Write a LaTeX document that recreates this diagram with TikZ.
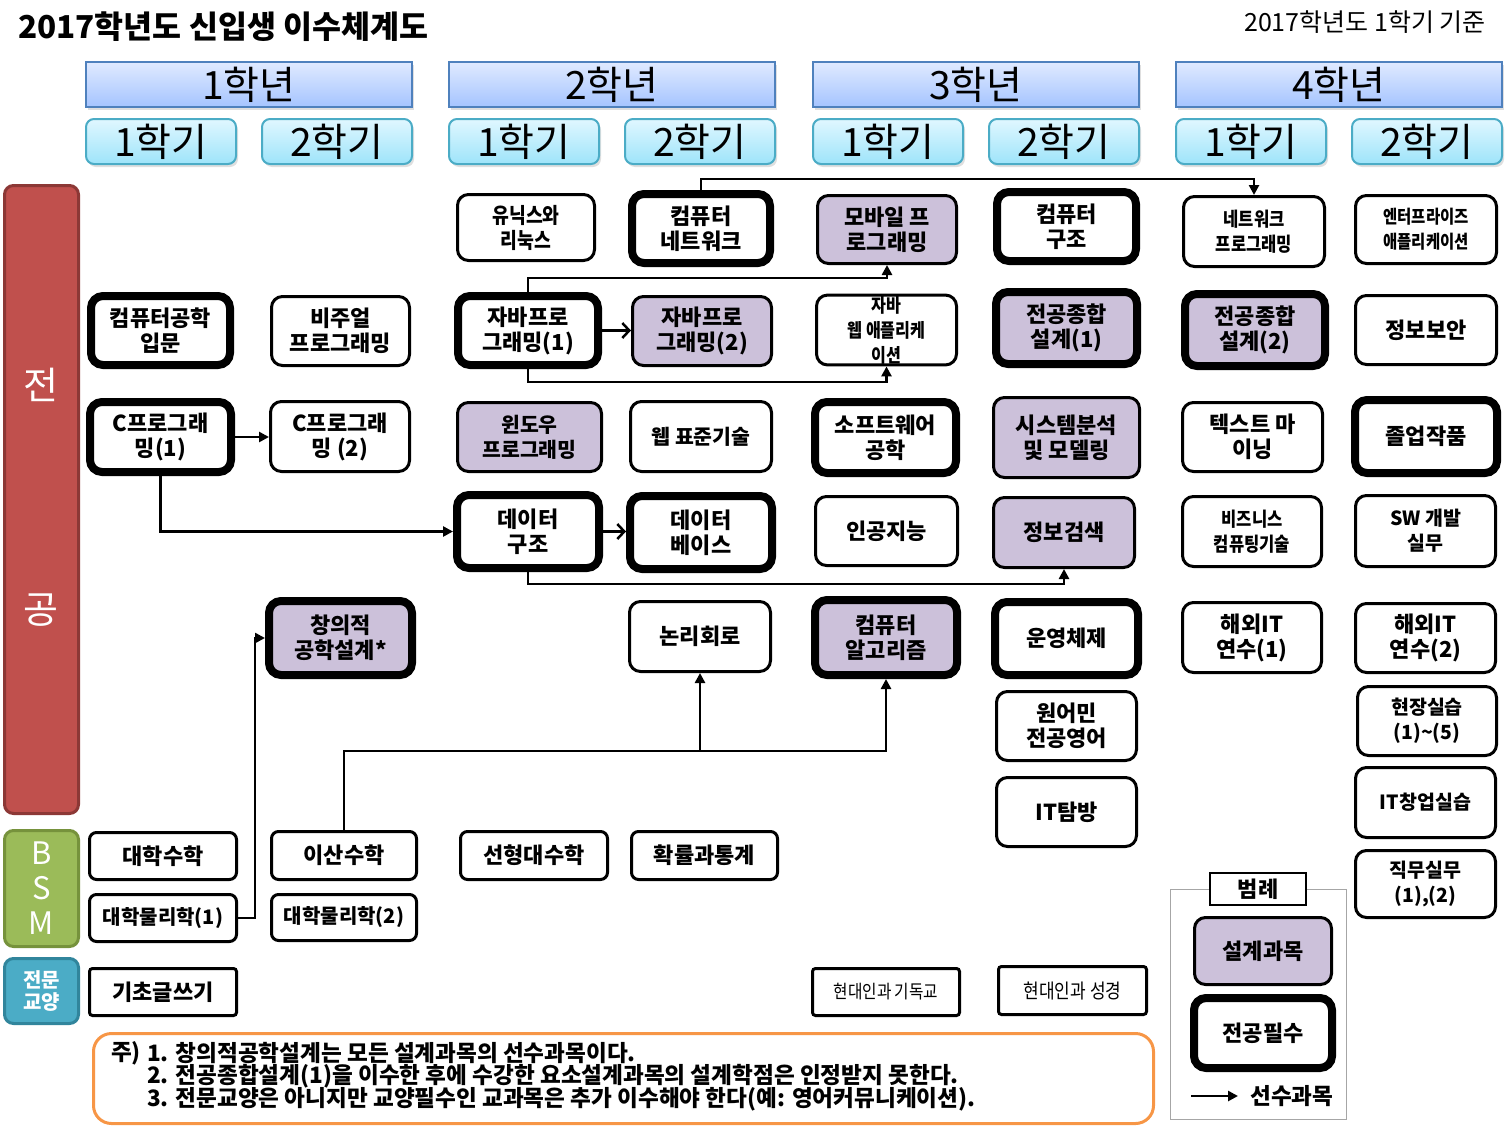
\documentclass[tikz,border=0pt]{standalone}
\usepackage{fontspec}
\setmainfont{Noto Sans CJK KR}
\newfontfamily\krc{Noto Sans CJK KR}[FakeStretch=0.85]
\usetikzlibrary{arrows.meta,shadows}
\definecolor{lav}{RGB}{204,193,218}
\definecolor{redbar}{RGB}{192,80,77}
\definecolor{redbd}{RGB}{140,56,54}
\definecolor{greenbar}{RGB}{155,187,89}
\definecolor{greenbd}{RGB}{118,146,60}
\definecolor{bluebar}{RGB}{75,172,198}
\definecolor{bluebd}{RGB}{49,133,156}
\definecolor{yeartop}{RGB}{224,234,255}
\definecolor{yearbot}{RGB}{165,196,255}
\definecolor{yearbd}{RGB}{79,129,189}
\definecolor{semtop}{RGB}{224,247,255}
\definecolor{sembot}{RGB}{158,228,250}
\definecolor{sembd}{RGB}{75,172,198}
\definecolor{orangeb}{RGB}{247,150,70}
\newcommand\crs[8]{\node[#1, minimum width={(#6-#4-#2)*1pt}, minimum height={(#7-#5-#2)*1pt}] (#3) at ({(#4+#6)/2},{(#5+#7)/2}) {#8};}
\newcommand\cndA{\krc\bfseries\fontsize{19.5}{23}\selectfont}
\newcommand\cndE{\krc\bfseries\fontsize{18.2}{22}\selectfont}
\newcommand\cndW{\krc\bfseries\fontsize{19}{22}\selectfont}
\newcommand\cndU{\krc\bfseries\fontsize{21.5}{25}\selectfont}
\newcommand\cndB{\fontsize{19.5}{24}\selectfont}
\newcommand\cndC{\fontsize{20.5}{24}\selectfont}
\tikzset{
 crsbase/.style={rounded corners=11pt, align=center, inner sep=1pt, font=\fontsize{22}{25}\selectfont\bfseries, text=black, fill=white},
 thinbox/.style={crsbase, draw=black, line width=3pt},
 thinpurple/.style={thinbox, fill=lav},
 smallbox/.style={thinbox, rounded corners=7pt},
 thickbox/.style={crsbase, draw=black, line width=8pt, rounded corners=12pt},
 thickpurple/.style={thickbox, fill=lav},
 yearbox/.style={draw=yearbd, line width=2pt, top color=yeartop, bottom color=yearbot, font=\fontsize{39}{42}\selectfont, drop shadow={opacity=0.25, shadow xshift=2pt, shadow yshift=-3pt}},
 sembox/.style={draw=sembd, line width=2pt, rounded corners=8pt, top color=semtop, bottom color=sembot, font=\fontsize{39}{42}\selectfont, drop shadow={opacity=0.25, shadow xshift=2pt, shadow yshift=-3pt}},
 sidebar/.style={line width=3pt, rounded corners=9pt, text=white},
 arr/.style={line width=2.5pt, -{Triangle[length=10pt,width=10pt]}},
 oarr/.style={line width=2.5pt, -{Straight Barb[length=7pt,width=15pt,line width=2.5pt]}},
 notetext/.style={anchor=west, inner sep=0pt, font=\fontsize{22.6}{23}\selectfont\bfseries},
}
\begin{document}
\begin{tikzpicture}[x=1pt,y=-1pt]
\useasboundingbox (0,0) rectangle (1511,1127);
% titles
\node[anchor=west, inner sep=0pt, font=\fontsize{31.5}{34}\selectfont\bfseries] (title) at (18,27) {2017학년도 신입생 이수체계도};
\node[anchor=east, inner sep=0pt, font=\fontsize{25}{28}\selectfont] (basis) at (1486,22) {2017학년도 1학기 기준};
% year headers
\crs{yearbox}{2}{y1}{85}{61}{413}{108}{1학년}
\crs{yearbox}{2}{y2}{448}{61}{776}{108}{2학년}
\crs{yearbox}{2}{y3}{812}{61}{1140}{108}{3학년}
\crs{yearbox}{2}{y4}{1175}{61}{1503}{108}{4학년}
\crs{sembox}{2}{s11}{85}{118}{237}{165}{1학기}
\crs{sembox}{2}{s12}{261}{118}{413}{165}{2학기}
\crs{sembox}{2}{s21}{448}{118}{600}{165}{1학기}
\crs{sembox}{2}{s22}{624}{118}{776}{165}{2학기}
\crs{sembox}{2}{s31}{812}{118}{964}{165}{1학기}
\crs{sembox}{2}{s32}{988}{118}{1140}{165}{2학기}
\crs{sembox}{2}{s41}{1175}{118}{1327}{165}{1학기}
\crs{sembox}{2}{s42}{1351}{118}{1503}{165}{2학기}
% sidebars
\crs{sidebar, draw=redbd, fill=redbar}{3}{major}{3}{184}{80}{815}{}
\node[text=white, font=\fontsize{38}{40}\selectfont] (majA) at (41,385) {전};
\node[text=white, font=\fontsize{38}{40}\selectfont] (majB) at (41,610) {공};
\crs{sidebar, draw=greenbd, fill=greenbar, align=center, font=\fontsize{31}{35}\selectfont}{3}{bsm}{3}{829}{80}{948}{B\\S\\M}
\crs{sidebar, draw=bluebd, fill=bluebar, align=center, font=\fontsize{20}{22}\selectfont\bfseries}{3}{liberal}{3}{957}{80}{1025}{전문\\교양}
% row 1
\crs{thinbox}{3}{unix}{456}{193}{596}{262}{\cndU 유닉스와\\\cndU 리눅스}
\crs{thickbox}{8}{cnet}{628}{190}{774}{267}{컴퓨터\\네트워크}
\crs{thinpurple}{3}{mobile}{816}{194}{958}{265}{모바일 프\\로그래밍}
\crs{thickbox}{8}{carch}{993}{188}{1140}{265}{컴퓨터\\구조}
\crs{thinbox}{3}{netprog}{1182}{195}{1326}{268}{\cndA 네트워크\\\cndA 프로그래밍}
\crs{thinbox}{3}{enterprise}{1354}{194}{1498}{265}{\cndE 엔터프라이즈\\\cndE 애플리케이션}
% row 2
\crs{thickbox}{8}{intro}{87}{292}{234}{369}{컴퓨터공학\\입문}
\crs{thinbox}{3}{visual}{270}{295}{411}{367}{비주얼\\프로그래밍}
\crs{thickbox}{8}{java1}{454}{292}{602}{369}{자바프로\\그래밍(1)}
\crs{thinpurple}{3}{java2}{631}{295}{773}{367}{자바프로\\그래밍(2)}
\crs{thinbox}{3}{javaweb}{815}{294}{958}{366}{\cndW 자바\\\cndW 웹 애플리케\\\cndW 이션}
\crs{thickpurple}{8}{cap1}{992}{288}{1141}{368}{전공종합\\설계(1)}
\crs{thickpurple}{8}{cap2}{1181}{290}{1329}{370}{전공종합\\설계(2)}
\crs{thinbox}{3}{security}{1354}{294}{1498}{366}{정보보안}
% row 3
\crs{thickbox}{8}{c1}{86}{398}{235}{476}{C프로그래\\밍(1)}
\crs{thinbox}{3}{c2}{269}{400}{411}{473}{C프로그래\\밍 (2)}
\crs{thinpurple}{3}{win}{456}{401}{603}{473}{\cndC 윈도우\\\cndC 프로그래밍}
\crs{thinbox}{3}{webstd}{629}{400}{773}{473}{\cndC 웹 표준기술}
\crs{thickbox}{8}{swe}{811}{398}{960}{477}{소프트웨어\\공학}
\crs{thinpurple}{3}{sysan}{992}{396}{1141}{479}{시스템분석\\및 모델링}
\crs{thinbox}{3}{textmin}{1181}{401}{1324}{473}{텍스트 마\\이닝}
\crs{thickbox}{8}{grad}{1351}{396}{1501}{477}{졸업작품}
% row 4
\crs{thickbox}{8}{ds}{453}{491}{603}{572}{데이터\\구조}
\crs{thickbox}{8}{db}{626}{492}{776}{573}{데이터\\베이스}
\crs{thinbox}{3}{ai}{814}{495}{959}{567}{인공지능}
\crs{thinpurple}{3}{ir}{992}{496}{1136}{569}{정보검색}
\crs{thinbox}{3}{biz}{1181}{495}{1323}{568}{\cndA 비즈니스\\\cndA 컴퓨팅기술}
\crs{thinbox}{3}{swdev}{1354}{494}{1497}{568}{\cndB SW 개발\\\cndB 실무}
% row 5
\crs{thickpurple}{8}{creative}{265}{597}{416}{679}{창의적\\공학설계*}
\crs{thinbox}{3}{logic}{628}{600}{772}{673}{논리회로}
\crs{thickpurple}{8}{algo}{811}{596}{961}{679}{컴퓨터\\알고리즘}
\crs{thickbox}{8}{os}{991}{598}{1142}{679}{운영체제}
\crs{thinbox}{3}{abroad1}{1181}{601}{1323}{674}{해외IT\\연수(1)}
\crs{thinbox}{3}{abroad2}{1354}{602}{1497}{674}{해외IT\\연수(2)}
% extra
\crs{thinbox}{3}{native}{995}{690}{1138}{762}{원어민\\전공영어}
\crs{thinbox}{3}{ittour}{995}{776}{1138}{848}{IT탐방}
\crs{thinbox}{3}{intern}{1356}{685}{1498}{757}{\cndB 현장실습\\\cndB (1)\textasciitilde(5)}
\crs{thinbox}{3}{startup}{1354}{766}{1497}{839}{\cndB IT창업실습}
\crs{thinbox}{3}{job}{1354}{849}{1497}{919}{\cndB 직무실무\\\cndB (1),(2)}
% BSM
\crs{smallbox}{3}{calc}{88}{831}{238}{881}{대학수학}
\crs{smallbox}{3}{discrete}{270}{830}{418}{881}{이산수학}
\crs{smallbox}{3}{linalg}{459}{830}{609}{881}{선형대수학}
\crs{smallbox}{3}{prob}{630}{830}{779}{881}{확률과통계}
\crs{smallbox}{3}{phys1}{88}{893}{238}{943}{\fontsize{20}{24}\selectfont 대학물리학(1)}
\crs{smallbox}{3}{phys2}{270}{893}{418}{942}{\fontsize{20}{24}\selectfont 대학물리학(2)}
% liberal arts
\crs{smallbox, rounded corners=3pt}{3}{writing}{88}{967}{238}{1017}{기초글쓰기}
\crs{smallbox, rounded corners=3pt}{3}{modchr}{811}{967}{961}{1017}{\krc\mdseries\fontsize{18.5}{20}\selectfont 현대인과 기독교}
\crs{smallbox, rounded corners=3pt}{3}{modbib}{997}{965}{1148}{1016}{\krc\mdseries\fontsize{20}{22}\selectfont 현대인과 성경}
% note
\crs{thinbox, draw=orangeb, rounded corners=18pt}{3}{note}{92}{1032}{1155}{1125}{}
\node[notetext] (n0) at (111,1053) {주)};
\node[notetext] (n1) at (147,1053) {1. 창의적공학설계는 모든 설계과목의 선수과목이다.};
\node[notetext] (n2) at (147,1076) {2. 전공종합설계(1)을 이수한 후에 수강한 요소설계과목의 설계학점은 인정받지 못한다.};
\node[notetext] (n3) at (147,1099) {3. 전문교양은 아니지만 교양필수인 교과목은 추가 이수해야 한다(예: 영어커뮤니케이션).};
% legend
\crs{thinbox, draw=gray!70, line width=1.2pt, rounded corners=0pt}{1.2}{legend}{1170}{889}{1347}{1120}{}
\crs{thinbox, line width=2pt, rounded corners=0pt}{2}{legtitle}{1209}{872}{1307}{906}{범례}
\crs{thinpurple}{3}{legdesign}{1193}{916}{1333}{986}{설계과목}
\crs{thickbox}{8}{legreq}{1190}{994}{1336}{1072}{전공필수}
\coordinate (legA) at (1191,1096);
\coordinate (legB) at (1238,1096);
\node[anchor=west, inner sep=0pt, font=\fontsize{22.6}{25}\selectfont\bfseries] (legtxt) at (1250,1096) {선수과목};
\draw[arr] (legA) -- (legB);
% connectors
\draw[arr] (cnet.north) -- ++(0,-11) -| (netprog.north);
\draw[arr] (java1.north) -- ++(0,-14) -| (mobile.south);
\draw[arr] (java1.south) -- ++(0,13) -| (javaweb.south);
\draw[oarr] (java1.east) -- (java2.west |- java1.east);
\draw[arr] (c1.east) -- (c2.west |- c1.east);
\draw[arr] (c1.south) |- (ds.west);
\draw[oarr] (ds.east) -- (db.west |- ds.east);
\draw[arr] (ds.south) -- ++(0,12) -| (ir.south);
\draw[arr] (phys1.east) -- ++(17,0) |- (creative.west);
\path (discrete.north) ++(0,-79) coordinate (bus);
\draw[arr] (discrete.north) -- (bus) -| (algo.south);
\draw[arr] (bus -| logic.south) -- (logic.south);
\end{tikzpicture}
\end{document}
